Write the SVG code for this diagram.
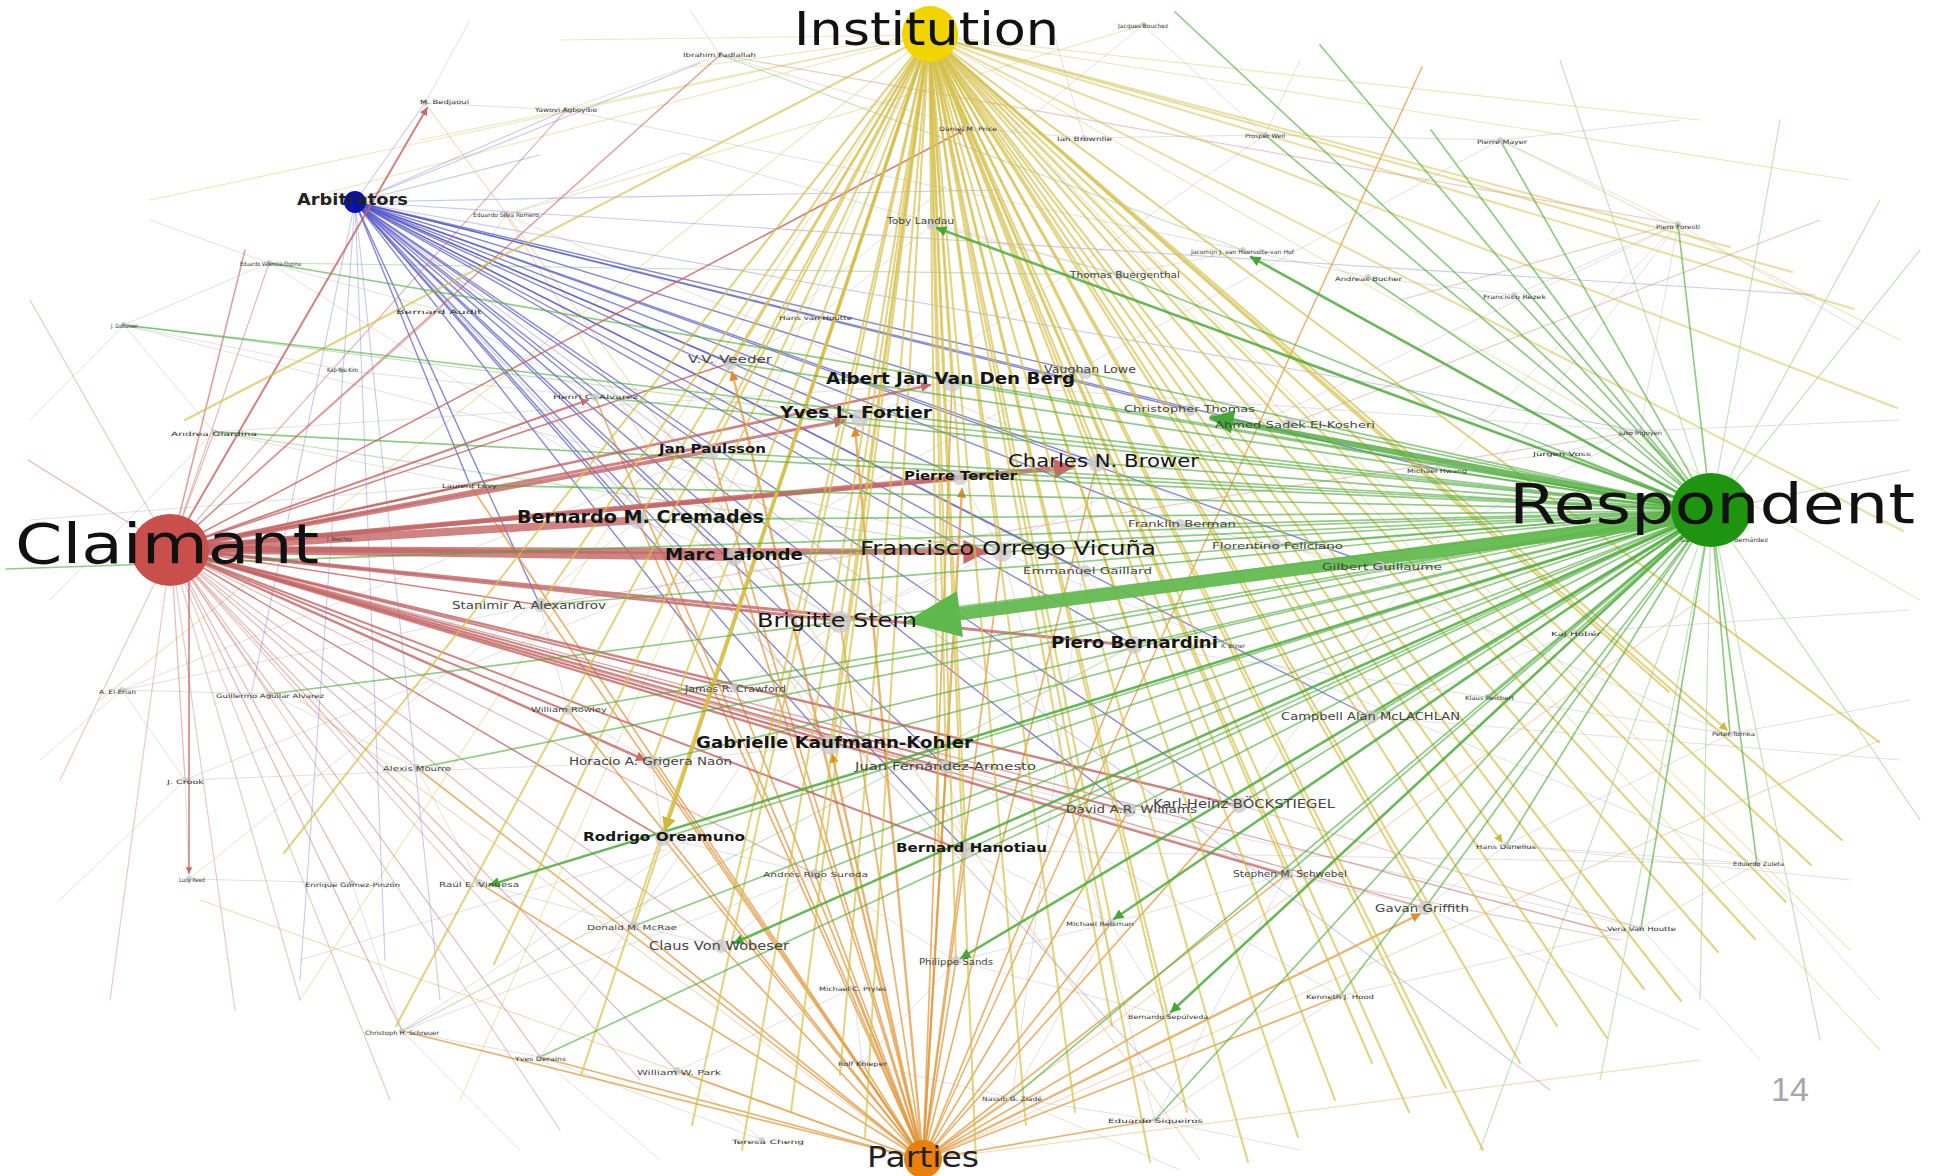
<svg xmlns="http://www.w3.org/2000/svg" width="1938" height="1176" viewBox="0 0 1938 1176">
<defs>
<style>
.e{fill:none;stroke-linecap:round}
.k{stroke:#9a9a9a;stroke-width:1;stroke-opacity:.3}
.fy{stroke:#d8cc70;stroke-width:1.2;stroke-opacity:.45}
.fg{stroke:#7cc070;stroke-width:1.2;stroke-opacity:.45}
.fr{stroke:#d08a8a;stroke-width:1.2;stroke-opacity:.45}
.fb{stroke:#8888dd;stroke-width:1.1;stroke-opacity:.45}
.fo{stroke:#e8b070;stroke-width:1.2;stroke-opacity:.45}
.y{stroke:#d4c04a;stroke-width:2.1;stroke-opacity:.68}
.g{stroke:#4dab3c;stroke-width:1.7;stroke-opacity:.62}
.r{stroke:#c46464;stroke-width:2;stroke-opacity:.8}
.o{stroke:#e0963c;stroke-width:1.7;stroke-opacity:.72}
.b{stroke:#5454c8;stroke-width:1.4;stroke-opacity:.7}
.d{fill:#c8c8c8;fill-opacity:.75}
.L{font-family:"DejaVu Sans","Liberation Sans",sans-serif;fill:#151515}
.bd{font-weight:bold}
.t{font-family:"DejaVu Sans","Liberation Sans",sans-serif;font-size:6px;fill:#333}
.s{font-family:"DejaVu Sans","Liberation Sans",sans-serif;fill:#444}
</style>
<marker id="aY" viewBox="0 0 10 10" refX="9" refY="5" markerWidth="4" markerHeight="4" orient="auto"><path d="M0 0L10 5L0 10z" fill="#cdb83c"/></marker>
<marker id="aG" viewBox="0 0 10 10" refX="9" refY="5" markerWidth="4" markerHeight="4" orient="auto"><path d="M0 0L10 5L0 10z" fill="#45a835"/></marker>
<marker id="aR" viewBox="0 0 10 10" refX="9" refY="5" markerWidth="4" markerHeight="4" orient="auto"><path d="M0 0L10 5L0 10z" fill="#c86a6a"/></marker>
<marker id="aO" viewBox="0 0 10 10" refX="9" refY="5" markerWidth="4" markerHeight="4" orient="auto"><path d="M0 0L10 5L0 10z" fill="#e08c2a"/></marker>
</defs>
<rect width="1938" height="1176" fill="#fff"/>
<g id="connectors">
<g id="web">
<path class="e k" d="M269 263 439 310"/><path class="e k" d="M269 263 124 325"/><path class="e k" d="M124 325 214 432"/><path class="e k" d="M124 325 342 370"/><path class="e k" d="M214 432 470 485"/><path class="e k" d="M342 370 595 397"/><path class="e k" d="M439 310 595 397"/><path class="e k" d="M506 215 439 310"/><path class="e k" d="M506 215 683 153"/><path class="e k" d="M425 103 566 110"/><path class="e k" d="M566 110 720 55"/><path class="e k" d="M720 55 968 128"/><path class="e k" d="M968 128 1084 138"/><path class="e k" d="M1084 138 1265 135"/><path class="e k" d="M1143 25 1265 135"/><path class="e k" d="M1265 135 1500 140"/><path class="e k" d="M1500 140 1678 224"/><path class="e k" d="M1678 224 1514 295"/><path class="e k" d="M1514 295 1368 277"/><path class="e k" d="M1368 277 1243 250"/><path class="e k" d="M1243 250 1120 275"/><path class="e k" d="M1120 275 932 225"/><path class="e k" d="M932 225 816 318"/><path class="e k" d="M816 318 730 363"/><path class="e k" d="M1678 224 1640 431"/><path class="e k" d="M1640 431 1562 453"/><path class="e k" d="M1562 453 1437 469"/><path class="e k" d="M1576 632 1487 697"/><path class="e k" d="M1487 697 1730 734"/><path class="e k" d="M1730 734 1506 845"/><path class="e k" d="M1506 845 1757 864"/><path class="e k" d="M1757 864 1641 928"/><path class="e k" d="M1641 928 1340 996"/><path class="e k" d="M1340 996 1155 1120"/><path class="e k" d="M1155 1120 1012 1098"/><path class="e k" d="M1012 1098 862 1063"/><path class="e k" d="M862 1063 853 988"/><path class="e k" d="M853 988 677 1071"/><path class="e k" d="M677 1071 762 1140"/><path class="e k" d="M762 1140 540 1057"/><path class="e k" d="M540 1057 402 1031"/><path class="e k" d="M402 1031 352 883"/><path class="e k" d="M352 883 189 879"/><path class="e k" d="M189 879 185 780"/><path class="e k" d="M185 780 122 690"/><path class="e k" d="M122 690 270 694"/><path class="e k" d="M270 694 417 768"/><path class="e k" d="M417 768 479 883"/><path class="e k" d="M479 883 634 926"/><path class="e k" d="M634 926 721 946"/><path class="e k" d="M721 946 815 874"/><path class="e k" d="M815 874 956 961"/><path class="e k" d="M956 961 1111 923"/><path class="e k" d="M1111 923 1287 874"/><path class="e k" d="M1287 874 1425 908"/><path class="e k" d="M1425 908 1506 845"/><path class="e k" d="M1371 717 1576 632"/><path class="e k" d="M1239 805 1371 717"/><path class="e k" d="M1129 810 1239 805"/><path class="e k" d="M946 767 1129 810"/><path class="e k" d="M830 745 946 767"/><path class="e k" d="M652 762 830 745"/><path class="e k" d="M568 710 652 762"/><path class="e k" d="M540 605 568 710"/><path class="e k" d="M735 688 830 745"/><path class="e k" d="M840 622 735 688"/><path class="e k" d="M840 622 1002 552"/><path class="e k" d="M734 557 840 622"/><path class="e k" d="M638 520 734 557"/><path class="e k" d="M711 452 638 520"/><path class="e k" d="M860 418 711 452"/><path class="e k" d="M952 383 860 418"/><path class="e k" d="M730 363 860 418"/><path class="e k" d="M1086 373 952 383"/><path class="e k" d="M1097 463 960 477"/><path class="e k" d="M960 477 1002 552"/><path class="e k" d="M1085 571 1180 525"/><path class="e k" d="M1180 525 1275 545"/><path class="e k" d="M1275 545 1380 567"/><path class="e k" d="M1190 410 1290 423"/><path class="e k" d="M1134 645 1085 571"/><path class="e k" d="M966 850 946 767"/><path class="e k" d="M663 838 652 762"/><path class="e k" d="M663 838 815 874"/><path class="e k" d="M966 850 1111 923"/><path class="e k" d="M1168 1016 1111 923"/><path class="e k" d="M1168 1016 956 961"/><path class="e k" d="M840 622 269 263"/><path class="e k" d="M840 622 1678 224"/><path class="e k" d="M1002 552 124 325"/><path class="e k" d="M1002 552 1757 864"/><path class="e k" d="M830 745 402 1031"/><path class="e k" d="M830 745 1641 928"/><path class="e k" d="M734 557 185 780"/><path class="e k" d="M734 557 1500 140"/><path class="e k" d="M1097 463 506 215"/><path class="e k" d="M1097 463 1730 734"/><path class="e k" d="M952 383 214 432"/><path class="e k" d="M952 383 1640 431"/><path class="e k" d="M638 520 189 879"/><path class="e k" d="M966 850 1757 864"/><path class="e k" d="M946 767 1340 996"/><path class="e k" d="M711 452 122 690"/><path class="e k" d="M860 418 1265 135"/><path class="e k" d="M1134 645 1487 697"/><path class="e k" d="M1002 552 1155 1120"/><path class="e k" d="M840 622 540 1057"/><path class="e k" d="M1097 463 1012 1098"/><path class="e k" d="M730 363 1143 25"/><path class="e k" d="M683 153 1120 275"/><path class="e k" d="M566 110 1243 250"/><path class="e k" d="M1239 805 1678 224"/><path class="e k" d="M1371 717 1900 760"/><path class="e k" d="M1730 734 1910 700"/><path class="e k" d="M1757 864 1880 1000"/><path class="e k" d="M1641 928 1760 1060"/><path class="e k" d="M122 690 40 760"/><path class="e k" d="M185 780 60 900"/><path class="e k" d="M269 263 150 220"/><path class="e k" d="M124 325 30 420"/><path class="e k" d="M402 1031 520 1150"/><path class="e k" d="M540 1057 660 1160"/><path class="e k" d="M1155 1120 1300 1150"/><path class="e k" d="M1012 1098 1180 1170"/><path class="e k" d="M214 432 50 600"/><path class="e k" d="M1500 140 1680 120"/><path class="e k" d="M1678 224 1860 330"/><path class="e k" d="M1640 431 1900 420"/><path class="e k" d="M1576 632 1910 610"/><path class="e k" d="M1506 845 1850 880"/><path class="e k" d="M1425 908 1700 1030"/><path class="e k" d="M425 103 470 20"/><path class="e k" d="M720 55 690 10"/><path class="e k" d="M1084 138 1050 20"/><path class="e k" d="M1265 135 1300 60"/><path class="e k" d="M665 850 300 960"/><path class="e k" d="M652 762 185 780"/><path class="e k" d="M540 605 122 690"/><path class="e k" d="M470 485 30 520"/><path class="e k" d="M815 874 402 1031"/><path class="e k" d="M956 961 862 1063"/><path class="e k" d="M1111 923 1012 1098"/><path class="e k" d="M1287 874 1155 1120"/><path class="e k" d="M1380 567 1640 431"/><path class="e k" d="M1437 469 1678 224"/>
</g>
<g id="faint">
<path class="e fy" d="M929 35 100 700"/><path class="e fy" d="M929 35 300 1000"/><path class="e fy" d="M929 35 1920 600"/><path class="e fy" d="M929 35 1850 950"/><path class="e fy" d="M929 35 150 200"/><path class="e fy" d="M929 35 560 40"/><path class="e fy" d="M929 35 420 140"/><path class="e fy" d="M929 35 300 200"/><path class="e fy" d="M929 35 692 67"/><path class="e fy" d="M929 35 1850 180"/><path class="e fy" d="M929 35 1700 120"/><path class="e fy" d="M929 35 460 1100"/><path class="e fy" d="M929 35 1880 1050"/><path class="e fy" d="M506 215 1143 25"/><path class="e fy" d="M1500 140 1900 340"/>
<path class="e fg" d="M1711 511 1920 250"/><path class="e fg" d="M1711 511 1880 200"/><path class="e fg" d="M1711 511 1700 1000"/><path class="e fg" d="M1711 511 1820 1040"/><path class="e fg" d="M1711 511 1600 1080"/><path class="e fg" d="M1711 511 1920 820"/><path class="e fg" d="M1711 511 1480 1150"/><path class="e fg" d="M1711 511 1910 470"/><path class="e fg" d="M1711 511 1560 60"/><path class="e fg" d="M1711 511 1780 120"/><path class="e fg" d="M269 263 1120 275"/><path class="e fg" d="M124 325 860 418"/><path class="e fg" d="M214 432 1002 552"/><path class="e fg" d="M720 55 1243 250"/><path class="e fg" d="M402 1031 1134 645"/>
<path class="e fr" d="M171 549 300 1000"/><path class="e fr" d="M171 549 390 1100"/><path class="e fr" d="M171 549 560 1130"/><path class="e fr" d="M171 549 640 1080"/><path class="e fr" d="M171 549 60 780"/><path class="e fr" d="M171 549 30 300"/><path class="e fr" d="M171 549 110 1000"/><path class="e fr" d="M171 549 235 1010"/><path class="e fr" d="M540 605 1640 431"/><path class="e fr" d="M1656 229 1400 300"/><path class="e fr" d="M1239 805 1641 928"/><path class="e fr" d="M1287 874 1620 940"/><path class="e fr" d="M720 55 1678 224"/><path class="e fr" d="M1820 220 1300 420"/>
<path class="e fb" d="M355 202 1815 295"/><path class="e fb" d="M355 202 700 63"/><path class="e fb" d="M355 202 566 110"/><path class="e fb" d="M355 202 540 155"/><path class="e fb" d="M355 202 1000 190"/><path class="e fb" d="M355 202 385 960"/><path class="e fb" d="M355 202 300 980"/><path class="e fb" d="M355 202 425 103"/><path class="e fb" d="M355 202 250 700"/><path class="e fb" d="M355 202 1550 1090"/><path class="e fb" d="M355 202 1640 431"/><path class="e fb" d="M355 202 440 1000"/><path class="e fb" d="M355 202 1200 1120"/>
<path class="e fo" d="M923 1160 300 700"/><path class="e fo" d="M923 1160 1700 600"/><path class="e fo" d="M923 1160 200 900"/><path class="e fo" d="M923 1160 1880 740"/><path class="e fo" d="M923 1160 1700 1060"/><path class="e fo" d="M425 103 1200 1160"/><path class="e fo" d="M506 215 830 745"/>
</g>
<g id="arbitrators-edges">
<path class="e b" d="M355 202 860 418"/><path class="e b" d="M355 202 1097 463"/><path class="e b" d="M355 202 952 383"/><path class="e b" d="M355 202 730 363"/><path class="e b" d="M355 202 711 452"/><path class="e b" d="M355 202 638 520"/><path class="e b" d="M355 202 840 622"/><path class="e b" d="M355 202 830 745"/><path class="e b" d="M355 202 946 767"/><path class="e b" d="M355 202 966 850"/><path class="e b" d="M355 202 1239 805"/><path class="e b" d="M355 202 1129 810"/><path class="e b" d="M355 202 1134 645"/><path class="e b" d="M355 202 1085 571"/><path class="e b" d="M355 202 1180 525"/><path class="e b" d="M355 202 735 688"/><path class="e b" d="M355 202 540 605"/><path class="e b" d="M355 202 470 485"/><path class="e b" d="M355 202 595 397"/><path class="e b" d="M355 202 1086 373"/><path class="e b" d="M355 202 1190 410"/><path class="e b" d="M355 202 1380 567"/><path class="e b" d="M355 202 1437 469"/><path class="e b" d="M355 202 1371 717"/><path class="e b" d="M355 202 1002 552"/><path class="e b" d="M355 202 734 557"/><path class="e b" d="M355 202 960 477"/>
</g>
<g id="parties-edges">
<path class="e o" d="M923 1160 840 622"/><path class="e o" d="M923 1160 734 557"/><path class="e o" d="M923 1160 638 520"/><path class="e o" d="M923 1160 711 452"/><path class="e o" d="M923 1160 1002 552"/><path class="e o" d="M923 1160 1097 463"/><path class="e o" d="M923 1160 952 383"/><path class="e o" d="M923 1160 1134 645"/><path class="e o" d="M923 1160 966 850"/><path class="e o" d="M923 1160 946 767"/><path class="e o" d="M923 1160 663 838"/><path class="e o" d="M923 1160 815 874"/><path class="e o" d="M923 1160 735 688"/><path class="e o" d="M923 1160 721 946"/><path class="e o" d="M923 1160 634 926"/><path class="e o" d="M923 1160 853 988"/><path class="e o" d="M923 1160 862 1063"/><path class="e o" d="M923 1160 677 1071"/><path class="e o" d="M923 1160 540 1057"/><path class="e o" d="M923 1160 402 1031"/><path class="e o" d="M923 1160 479 883"/><path class="e o" d="M923 1160 417 768"/><path class="e o" d="M923 1160 540 605"/><path class="e o" d="M923 1160 652 762"/><path class="e o" d="M923 1160 568 710"/><path class="e o" d="M923 1160 956 961"/><path class="e o" d="M923 1160 1111 923"/><path class="e o" d="M923 1160 1168 1016"/><path class="e o" d="M923 1160 1012 1098"/><path class="e o" d="M923 1160 1155 1120"/><path class="e o" d="M923 1160 1287 874"/><path class="e o" d="M923 1160 1340 996"/><path class="e o" d="M923 1160 1239 805"/><path class="e o" d="M923 1160 1129 810"/><path class="e o" d="M923 1160 595 397"/><path class="e o" d="M923 1160 470 485"/>
<path class="e o" style="stroke-width:2.4" marker-end="url(#aO)" d="M923 1160 732 372"/><path class="e o" style="stroke-width:2.4" marker-end="url(#aO)" d="M923 1160 855 428"/><path class="e o" style="stroke-width:2.4" marker-end="url(#aO)" d="M923 1160 962 489"/><path class="e o" style="stroke-width:2.4" marker-end="url(#aO)" d="M923 1160 832 754"/><path class="e o" style="stroke-width:2.4" marker-end="url(#aO)" d="M923 1160 1420 914"/><path class="e o" style="stroke-width:1.5" d="M923 1160 1422 67"/>
</g>
<g id="claimant-edges">
<path class="e r" style="stroke-width:8" d="M171 549 640 520"/><path class="e r" style="stroke-width:8" d="M171 549 730 557"/><path class="e r" style="stroke-width:6" marker-end="url(#aR)" d="M171 549 985 552"/><path class="e r" style="stroke-width:5" marker-end="url(#aR)" d="M171 549 1072 467"/><path class="e r" style="stroke-width:4" d="M171 549 955 479"/><path class="e r" style="stroke-width:4" d="M171 549 705 452"/><path class="e r" style="stroke-width:3" marker-end="url(#aR)" d="M171 549 845 420"/><path class="e r" style="stroke-width:3" d="M171 549 835 620"/><path class="e r" style="stroke-width:3" d="M171 549 1128 645"/><path class="e r" style="stroke-width:2.5" marker-end="url(#aR)" d="M171 549 930 385"/><path class="e r" style="stroke-width:2.5" marker-end="url(#aR)" d="M171 549 645 760"/><path class="e r" style="stroke-width:2.5" d="M171 549 825 745"/><path class="e r" style="stroke-width:2.5" d="M171 549 1235 805"/>
<path class="e r" d="M171 549 1282 874"/><path class="e r" d="M171 549 962 850"/><path class="e r" d="M171 549 942 767"/><path class="e r" d="M171 549 730 688"/><path class="e r" d="M171 549 565 710"/><path class="e r" d="M171 549 1125 810"/><path class="e r" style="stroke-width:1.5" d="M171 549 540 605"/><path class="e r" style="stroke-width:1.5" d="M171 549 663 838"/><path class="e r" style="stroke-width:1.5" d="M171 549 730 363"/><path class="e r" style="stroke-width:1.5" d="M171 549 470 485"/>
<path class="e r" marker-end="url(#aR)" d="M171 549 427 108"/><path class="e r" style="stroke-width:1.6" marker-end="url(#aR)" d="M171 549 964 130"/><path class="e r" marker-end="url(#aR)" d="M171 549 588 400"/><path class="e r" style="stroke-width:1.6" marker-end="url(#aR)" d="M189 560 189 873"/>
<path class="e r" style="stroke-width:1.2;stroke-opacity:.45" d="M171 549 352 883"/><path class="e r" style="stroke-width:1.2;stroke-opacity:.45" d="M171 549 479 883"/><path class="e r" style="stroke-width:1.2;stroke-opacity:.45" d="M171 549 402 1031"/><path class="e r" style="stroke-width:1.2;stroke-opacity:.45" d="M171 549 540 1057"/><path class="e r" style="stroke-width:1.2;stroke-opacity:.45" d="M171 549 677 1071"/><path class="e r" style="stroke-width:1.2;stroke-opacity:.45" d="M171 549 721 946"/><path class="e r" style="stroke-width:1.2;stroke-opacity:.45" d="M171 549 634 926"/><path class="e r" style="stroke-width:1.2;stroke-opacity:.45" d="M171 549 815 874"/><path class="e r" style="stroke-width:1.2;stroke-opacity:.45" d="M171 549 269 263"/><path class="e r" style="stroke-width:1.2;stroke-opacity:.45" d="M171 549 214 432"/><path class="e r" style="stroke-width:1.2;stroke-opacity:.45" d="M171 549 439 310"/><path class="e r" style="stroke-width:1.5;stroke-opacity:.6" d="M171 549 720 55"/><path class="e r" style="stroke-width:1.2;stroke-opacity:.45" d="M171 549 566 110"/><path class="e r" style="stroke-width:1.4;stroke-opacity:.55" d="M171 549 1607 931"/><path class="e r" style="stroke-width:1.2;stroke-opacity:.45" d="M171 549 28 460"/><path class="e r" style="stroke-width:1.6;stroke-opacity:.6" d="M171 549 245 250"/><path class="e r" style="stroke-width:1.2;stroke-opacity:.45" d="M171 549 185 780"/><path class="e r" style="stroke-width:1.2;stroke-opacity:.45" d="M171 549 417 768"/><path class="e r" style="stroke-width:1.2;stroke-opacity:.45" d="M171 549 270 694"/><path class="e r" style="stroke-width:1.4;stroke-opacity:.55" d="M171 549 1287 874"/><path class="e r" style="stroke-width:1.4;stroke-opacity:.55" d="M171 549 1425 908"/>
</g>
<g id="institution-edges">
<path class="e y" d="M929 35 185 420"/><path class="e y" d="M929 35 284 853"/><path class="e y" d="M929 35 396 1026"/><path class="e y" d="M929 35 494 964"/><path class="e y" d="M929 35 581 1075"/><path class="e y" d="M929 35 692 1125"/><path class="e y" d="M929 35 742 1150"/><path class="e y" d="M929 35 791 1112"/><path class="e y" d="M929 35 840 1075"/><path class="e y" d="M929 35 865 1137"/><path class="e y" d="M929 35 976 1162"/><path class="e y" d="M929 35 1026 1125"/><path class="e y" d="M929 35 1075 1112"/><path class="e y" d="M929 35 1112 1026"/><path class="e y" d="M929 35 1150 1162"/><path class="e y" d="M929 35 1187 1112"/><path class="e y" d="M929 35 1248 1162"/><path class="e y" d="M929 35 1298 1137"/><path class="e y" d="M929 35 1335 1100"/><path class="e y" d="M929 35 1372 1063"/><path class="e y" d="M929 35 1409 1112"/><path class="e y" d="M929 35 1446 1088"/><path class="e y" d="M929 35 1483 1150"/><path class="e y" d="M929 35 1520 1063"/><path class="e y" d="M929 35 1557 1026"/><path class="e y" d="M929 35 1607 1038"/><path class="e y" d="M929 35 1644 989"/><path class="e y" d="M929 35 1681 1001"/><path class="e y" d="M929 35 1718 952"/><path class="e y" d="M929 35 1755 939"/><path class="e y" d="M929 35 1786 902"/><path class="e y" d="M929 35 1811 865"/><path class="e y" d="M929 35 1842 840"/><path class="e y" d="M929 35 1879 742"/><path class="e y" d="M929 35 1669 692"/><path class="e y" style="stroke-opacity:.5" d="M929 35 1897 408"/><path class="e y" style="stroke-opacity:.5" d="M929 35 1903 531"/><path class="e y" style="stroke-opacity:.5" d="M929 35 1854 309"/><path class="e y" style="stroke-opacity:.5" d="M929 35 1792 272"/><path class="e y" style="stroke-opacity:.5" d="M929 35 1730 247"/><path class="e y" d="M929 35 939 865"/>
<path class="e y" d="M929 35 730 363"/><path class="e y" d="M929 35 711 452"/><path class="e y" d="M929 35 638 520"/><path class="e y" d="M929 35 540 605"/><path class="e y" d="M929 35 652 762"/><path class="e y" d="M929 35 830 745"/><path class="e y" d="M929 35 960 477"/><path class="e y" d="M929 35 1002 552"/><path class="e y" d="M929 35 952 383"/><path class="e y" d="M929 35 840 622"/><path class="e y" d="M929 35 966 850"/><path class="e y" d="M929 35 946 767"/><path class="e y" d="M929 35 1097 463"/><path class="e y" d="M929 35 1134 645"/><path class="e y" d="M929 35 1239 805"/><path class="e y" d="M929 35 1371 717"/><path class="e y" d="M929 35 1287 874"/><path class="e y" d="M929 35 1425 908"/><path class="e y" d="M929 35 1111 923"/><path class="e y" d="M929 35 1168 1016"/><path class="e y" d="M929 35 956 961"/><path class="e y" d="M929 35 815 874"/><path class="e y" d="M929 35 721 946"/><path class="e y" d="M929 35 634 926"/>
<path class="e y" style="stroke-width:3.5;stroke-opacity:.85" marker-end="url(#aY)" d="M929 35 665 830"/><path class="e y" marker-end="url(#aY)" d="M929 35 1502 842"/><path class="e y" marker-end="url(#aY)" d="M929 35 1727 730"/>
</g>
<g id="respondent-edges">
<path class="e g" d="M1711 511 952 383"/><path class="e g" d="M1711 511 860 418"/><path class="e g" d="M1711 511 711 452"/><path class="e g" d="M1711 511 1097 463"/><path class="e g" d="M1711 511 960 477"/><path class="e g" d="M1711 511 638 520"/><path class="e g" d="M1711 511 734 557"/><path class="e g" d="M1711 511 1002 552"/><path class="e g" d="M1711 511 1134 645"/><path class="e g" d="M1711 511 830 745"/><path class="e g" d="M1711 511 663 838"/><path class="e g" d="M1711 511 966 850"/><path class="e g" d="M1711 511 1239 805"/><path class="e g" d="M1711 511 1371 717"/><path class="e g" d="M1711 511 946 767"/><path class="e g" d="M1711 511 652 762"/><path class="e g" d="M1711 511 1129 810"/><path class="e g" d="M1711 511 1425 908"/><path class="e g" d="M1711 511 1287 874"/><path class="e g" d="M1711 511 540 605"/><path class="e g" d="M1711 511 730 363"/><path class="e g" d="M1711 511 1086 373"/><path class="e g" d="M1711 511 1290 423"/><path class="e g" d="M1711 511 1180 525"/><path class="e g" d="M1711 511 1085 571"/><path class="e g" d="M1711 511 1275 545"/><path class="e g" d="M1711 511 1380 567"/><path class="e g" d="M1711 511 735 688"/><path class="e g" d="M1711 511 568 710"/><path class="e g" d="M1711 511 815 874"/><path class="e g" d="M1711 511 634 926"/><path class="e g" d="M1711 511 1437 469"/><path class="e g" d="M1711 511 1576 632"/><path class="e g" d="M1711 511 1506 845"/><path class="e g" d="M1711 511 1340 996"/><path class="e g" d="M1711 511 1155 1120"/><path class="e g" d="M1711 511 1012 1098"/><path class="e g" d="M1711 511 595 397"/><path class="e g" d="M1711 511 470 485"/><path class="e g" d="M1711 511 214 432"/><path class="e g" d="M1711 511 417 768"/><path class="e g" d="M1711 511 270 694"/><path class="e g" d="M1711 511 540 1057"/><path class="e g" d="M1711 511 1120 275"/><path class="e g" d="M1711 511 1368 277"/><path class="e g" d="M1711 511 1514 295"/><path class="e g" d="M1711 511 1265 135"/><path class="e g" d="M1711 511 1500 140"/><path class="e g" d="M1711 511 1678 224"/><path class="e g" d="M1711 511 6 569"/><path class="e g" d="M1711 511 124 325"/><path class="e g" d="M1711 511 1175 12"/><path class="e g" d="M1711 511 1320 45"/><path class="e g" d="M1711 511 1431 130"/><path class="e g" d="M1711 511 1640 431"/><path class="e g" d="M1711 511 1562 453"/><path class="e g" d="M1711 511 1487 697"/><path class="e g" d="M1711 511 1730 734"/><path class="e g" d="M1711 511 1641 928"/><path class="e g" d="M1711 511 1757 864"/><path class="e g" d="M1711 511 269 263"/>
<path class="e g" style="stroke-width:2.6;stroke-opacity:.85" marker-end="url(#aG)" d="M1711 511 937 228"/><path class="e g" style="stroke-width:2.6;stroke-opacity:.85" marker-end="url(#aG)" d="M1711 511 1251 257"/><path class="e g" style="stroke-width:2.6;stroke-opacity:.85" marker-end="url(#aG)" d="M1711 511 490 885"/><path class="e g" style="stroke-width:2.6;stroke-opacity:.85" marker-end="url(#aG)" d="M1711 511 734 943"/><path class="e g" style="stroke-width:2.6;stroke-opacity:.85" marker-end="url(#aG)" d="M1711 511 961 958"/><path class="e g" style="stroke-width:2.6;stroke-opacity:.85" marker-end="url(#aG)" d="M1711 511 1114 919"/><path class="e g" style="stroke-width:2.6;stroke-opacity:.85" marker-end="url(#aG)" d="M1711 511 1171 1012"/>
<path class="e g" style="stroke-width:6;stroke-opacity:.8" marker-end="url(#aG)" d="M1711 511 1212 418"/>
<path class="e" style="stroke:#5fb84c;stroke-width:13;stroke-opacity:.92;stroke-linecap:butt" d="M1700 516 958 614"/>
<path d="M905 622L963 637L957 591z" fill="#5fb84c"/>
</g>
</g>
<g id="nodes">
<g id="n-berg"><circle class="d" cx="952" cy="383" r="9"/><text class="L bd" x="826" y="384" font-size="16" textLength="249" lengthAdjust="spacingAndGlyphs">Albert Jan Van Den Berg</text></g>
<g id="n-fortier"><circle class="d" cx="860" cy="418" r="9"/><text class="L bd" x="780" y="418" font-size="16" textLength="152" lengthAdjust="spacingAndGlyphs">Yves L. Fortier</text></g>
<g id="n-paulsson"><circle class="d" cx="711" cy="452" r="8"/><text class="L bd" x="659" y="453" font-size="13" textLength="107" lengthAdjust="spacingAndGlyphs">Jan Paulsson</text></g>
<g id="n-brower"><circle class="d" cx="1097" cy="463" r="9"/><text class="L" x="1008" y="467" font-size="17" textLength="191" lengthAdjust="spacingAndGlyphs">Charles N. Brower</text></g>
<g id="n-tercier"><circle class="d" cx="960" cy="477" r="8"/><text class="L bd" x="904" y="480" font-size="12" textLength="113" lengthAdjust="spacingAndGlyphs">Pierre Tercier</text></g>
<g id="n-cremades"><circle class="d" cx="638" cy="520" r="9"/><text class="L" x="517" y="523" font-size="17" textLength="247" lengthAdjust="spacingAndGlyphs" style="font-weight:600">Bernardo M. Cremades</text></g>
<g id="n-lalonde"><circle class="d" cx="734" cy="557" r="9"/><text class="L bd" x="665" y="560" font-size="15" textLength="138" lengthAdjust="spacingAndGlyphs">Marc Lalonde</text></g>
<g id="n-vicuna"><circle class="d" cx="1002" cy="552" r="10"/><text class="L" x="860" y="555" font-size="19" textLength="296" lengthAdjust="spacingAndGlyphs">Francisco Orrego Vicuña</text></g>
<g id="n-stern"><circle class="d" cx="840" cy="622" r="11"/><text class="L" x="757" y="627" font-size="19" textLength="160" lengthAdjust="spacingAndGlyphs">Brigitte Stern</text></g>
<g id="n-bernardini"><circle class="d" cx="1134" cy="645" r="9"/><text class="L bd" x="1051" y="648" font-size="15" textLength="167" lengthAdjust="spacingAndGlyphs">Piero Bernardini</text></g>
<g id="n-kaufmann"><circle class="d" cx="830" cy="745" r="10"/><text class="L bd" x="696" y="748" font-size="16" textLength="277" lengthAdjust="spacingAndGlyphs">Gabrielle Kaufmann-Kohler</text></g>
<g id="n-oreamuno"><circle class="d" cx="663" cy="838" r="8"/><text class="L bd" x="583" y="841" font-size="12" textLength="162" lengthAdjust="spacingAndGlyphs">Rodrigo Oreamuno</text></g>
<g id="n-hanotiau"><circle class="d" cx="966" cy="850" r="8"/><text class="L bd" x="896" y="852" font-size="12" textLength="151" lengthAdjust="spacingAndGlyphs">Bernard Hanotiau</text></g>
<g id="n-bockstiegel"><circle class="d" cx="1239" cy="805" r="8"/><text class="s" x="1153" y="808" font-size="12" textLength="182" lengthAdjust="spacingAndGlyphs">Karl-Heinz BÖCKSTIEGEL</text></g>
<g id="n-mclachlan"><circle class="d" cx="1371" cy="717" r="7"/><text class="s" x="1281" y="720" font-size="11" textLength="179" lengthAdjust="spacingAndGlyphs">Campbell Alan McLACHLAN</text></g>
<g id="n-armesto"><circle class="d" cx="946" cy="767" r="7"/><text class="s" x="855" y="770" font-size="11" textLength="181" lengthAdjust="spacingAndGlyphs">Juan Fernández-Armesto</text></g>
<g id="n-grigera"><circle class="d" cx="652" cy="762" r="7"/><text class="s" x="569" y="765" font-size="10" textLength="163" lengthAdjust="spacingAndGlyphs">Horacio A. Grigera Naón</text></g>
<g id="n-williams"><circle class="d" cx="1129" cy="810" r="7"/><text class="s" x="1066" y="813" font-size="10" textLength="131" lengthAdjust="spacingAndGlyphs">David A.R. Williams</text></g>
<g id="n-wobeser"><circle class="d" cx="721" cy="946" r="7"/><text class="s" x="649" y="950" font-size="13" textLength="140" lengthAdjust="spacingAndGlyphs">Claus Von Wobeser</text></g>
<g id="n-griffith"><circle class="d" cx="1425" cy="908" r="7"/><text class="s" x="1375" y="912" font-size="11" textLength="94" lengthAdjust="spacingAndGlyphs">Gavan Griffith</text></g>
<g id="n-schwebel"><circle class="d" cx="1287" cy="874" r="6"/><text class="s" x="1233" y="877" font-size="8" textLength="114" lengthAdjust="spacingAndGlyphs">Stephen M. Schwebel</text></g>
<g id="n-alexandrov"><circle class="d" cx="540" cy="605" r="7"/><text class="s" x="452" y="609" font-size="11" textLength="154" lengthAdjust="spacingAndGlyphs">Stanimir A. Alexandrov</text></g>
<g id="n-veeder"><circle class="d" cx="730" cy="363" r="7"/><text class="s" x="688" y="363" font-size="11" textLength="84" lengthAdjust="spacingAndGlyphs">V.V. Veeder</text></g>
<g id="n-lowe"><circle class="d" cx="1086" cy="373" r="6"/><text class="s" x="1044" y="373" font-size="10" textLength="92" lengthAdjust="spacingAndGlyphs">Vaughan Lowe</text></g>
<g id="n-thomas"><circle class="d" cx="1190" cy="410" r="6"/><text class="s" x="1124" y="412" font-size="9" textLength="131" lengthAdjust="spacingAndGlyphs">Christopher Thomas</text></g>
<g id="n-kosheri"><circle class="d" cx="1290" cy="423" r="6"/><text class="s" x="1215" y="428" font-size="9" textLength="160" lengthAdjust="spacingAndGlyphs">Ahmed Sadek El-Kosheri</text></g>
<g id="n-berman"><circle class="d" cx="1180" cy="525" r="6"/><text class="s" x="1128" y="527" font-size="9" textLength="108" lengthAdjust="spacingAndGlyphs">Franklin Berman</text></g>
<g id="n-gaillard"><circle class="d" cx="1085" cy="571" r="6"/><text class="s" x="1023" y="574" font-size="9" textLength="129" lengthAdjust="spacingAndGlyphs">Emmanuel Gaillard</text></g>
<g id="n-feliciano"><circle class="d" cx="1275" cy="545" r="6"/><text class="s" x="1212" y="549" font-size="9" textLength="131" lengthAdjust="spacingAndGlyphs">Florentino Feliciano</text></g>
<g id="n-guillaume"><circle class="d" cx="1380" cy="567" r="6"/><text class="s" x="1322" y="570" font-size="9" textLength="120" lengthAdjust="spacingAndGlyphs">Gilbert Guillaume</text></g>
<g id="n-crawford"><circle class="d" cx="735" cy="688" r="5"/><text class="s" x="685" y="692" font-size="8" textLength="101" lengthAdjust="spacingAndGlyphs">James R. Crawford</text></g>
<g id="n-rowley"><circle class="d" cx="568" cy="710" r="5"/><text class="s" x="531" y="712" font-size="7" textLength="76" lengthAdjust="spacingAndGlyphs">William Rowley</text></g>
<g id="n-rigo"><circle class="d" cx="815" cy="874" r="5"/><text class="s" x="763" y="877" font-size="7" textLength="105" lengthAdjust="spacingAndGlyphs">Andrés Rigo Sureda</text></g>
<g id="n-mcrae"><circle class="d" cx="634" cy="926" r="5"/><text class="s" x="587" y="930" font-size="7" textLength="90" lengthAdjust="spacingAndGlyphs">Donald M. McRae</text></g>
<g id="n-sands"><circle class="d" cx="956" cy="961" r="5"/><text class="s" x="919" y="965" font-size="8" textLength="74" lengthAdjust="spacingAndGlyphs">Philippe Sands</text></g>
<g id="n-reisman"><circle class="d" cx="1111" cy="923" r="4"/><text class="t" x="1066" y="926" textLength="68" lengthAdjust="spacingAndGlyphs">Michael Reisman</text></g>
<g id="n-landau"><circle class="d" cx="932" cy="225" r="5"/><text class="s" x="887" y="224" font-size="9" textLength="67" lengthAdjust="spacingAndGlyphs">Toby Landau</text></g>
<g id="n-buergenthal"><circle class="d" cx="1120" cy="275" r="5"/><text class="s" x="1070" y="278" font-size="9" textLength="110" lengthAdjust="spacingAndGlyphs">Thomas Buergenthal</text></g>
<g id="n-alvarez"><circle class="d" cx="595" cy="397" r="4"/><text class="t" x="553" y="399" font-size="7" textLength="85" lengthAdjust="spacingAndGlyphs">Henri C. Alvarez</text></g>
<g id="n-haersolte"><circle class="d" cx="1243" cy="250" r="3"/><text class="t" x="1191" y="254" textLength="103" lengthAdjust="spacingAndGlyphs">Jacomijn J. van Haersolte-van Hof</text></g>
<g id="n-price"><circle class="d" cx="968" cy="128" r="3"/><text class="t" x="939" y="131" textLength="58" lengthAdjust="spacingAndGlyphs">Daniel M. Price</text></g>
<g id="n-weil"><circle class="d" cx="1265" cy="135" r="3"/><text class="t" x="1245" y="138" textLength="40" lengthAdjust="spacingAndGlyphs">Prosper Weil</text></g>
<g id="n-bucher"><circle class="d" cx="1368" cy="277" r="3"/><text class="t" x="1335" y="281" textLength="67" lengthAdjust="spacingAndGlyphs">Andreas Bucher</text></g>
<g id="n-rezek"><circle class="d" cx="1514" cy="295" r="3"/><text class="t" x="1483" y="299" textLength="63" lengthAdjust="spacingAndGlyphs">Francisco Rezek</text></g>
<g id="n-sepulveda"><circle class="d" cx="1168" cy="1016" r="3"/><text class="t" x="1128" y="1019" textLength="80" lengthAdjust="spacingAndGlyphs">Bernardo Sepúlveda</text></g>
<g id="n-park"><circle class="d" cx="677" cy="1071" r="4"/><text class="s" x="637" y="1075" font-size="7" textLength="84" lengthAdjust="spacingAndGlyphs">William W. Park</text></g>
<g id="n-bedjaoui"><circle class="d" cx="425" cy="103" r="3"/><text class="t" x="420" y="104" textLength="49" lengthAdjust="spacingAndGlyphs">M. Bedjaoui</text></g>
<g id="n-fadlallah"><circle class="d" cx="720" cy="55" r="3"/><text class="t" x="683" y="57" textLength="73" lengthAdjust="spacingAndGlyphs">Ibrahim Fadlallah</text></g>
<g id="n-agboyibo"><circle class="d" cx="566" cy="110" r="3"/><text class="t" x="535" y="112" textLength="62" lengthAdjust="spacingAndGlyphs">Yawovi Agboyibo</text></g>
<g id="n-silva"><circle class="d" cx="506" cy="215" r="3"/><text class="t" x="473" y="217" textLength="66" lengthAdjust="spacingAndGlyphs">Eduardo Silva Romero</text></g>
<g id="n-bouchez"><circle class="d" cx="1143" cy="25" r="3"/><text class="t" x="1118" y="28" textLength="50" lengthAdjust="spacingAndGlyphs">Jacques Bouchez</text></g>
<g id="n-brownlie"><circle class="d" cx="1084" cy="138" r="3"/><text class="t" x="1057" y="141" textLength="55" lengthAdjust="spacingAndGlyphs">Ian Brownlie</text></g>
<g id="n-mayer"><circle class="d" cx="1500" cy="140" r="3"/><text class="t" x="1477" y="144" textLength="50" lengthAdjust="spacingAndGlyphs">Pierre Mayer</text></g>
<g id="n-foresti"><circle class="d" cx="1678" cy="224" r="3"/><text class="t" x="1656" y="229" textLength="44" lengthAdjust="spacingAndGlyphs">Piero Foresti</text></g>
<g id="n-irigoyen"><circle class="d" cx="1640" cy="431" r="3"/><text class="t" x="1619" y="435" textLength="43" lengthAdjust="spacingAndGlyphs">Julio Irigoyen</text></g>
<g id="n-voss"><circle class="d" cx="1562" cy="453" r="3"/><text class="t" x="1533" y="456" textLength="58" lengthAdjust="spacingAndGlyphs">Jürgen Voss</text></g>
<g id="n-hwang"><circle class="d" cx="1437" cy="469" r="3"/><text class="t" x="1407" y="473" textLength="60" lengthAdjust="spacingAndGlyphs">Michael Hwang</text></g>
<g id="n-torres"><text class="t" x="1680" y="542" textLength="88" lengthAdjust="spacingAndGlyphs">Santiago Torres Bernárdez</text></g>
<g id="n-hober"><circle class="d" cx="1576" cy="632" r="3"/><text class="t" x="1551" y="636" textLength="50" lengthAdjust="spacingAndGlyphs">Kaj Hobér</text></g>
<g id="n-reichert"><circle class="d" cx="1487" cy="697" r="3"/><text class="t" x="1465" y="700" textLength="49" lengthAdjust="spacingAndGlyphs">Klaus Reichert</text></g>
<g id="n-tomka"><circle class="d" cx="1730" cy="734" r="3"/><text class="t" x="1712" y="736" textLength="43" lengthAdjust="spacingAndGlyphs">Peter Tomka</text></g>
<g id="n-danelius"><circle class="d" cx="1506" cy="845" r="3"/><text class="t" x="1476" y="849" textLength="60" lengthAdjust="spacingAndGlyphs">Hans Danelius</text></g>
<g id="n-zuleta"><circle class="d" cx="1757" cy="864" r="3"/><text class="t" x="1733" y="866" textLength="51" lengthAdjust="spacingAndGlyphs">Eduardo Zuleta</text></g>
<g id="n-vanhoutte"><circle class="d" cx="1641" cy="928" r="3"/><text class="t" x="1607" y="931" textLength="69" lengthAdjust="spacingAndGlyphs">Vera Van Houtte</text></g>
<g id="n-hood"><circle class="d" cx="1340" cy="996" r="3"/><text class="t" x="1306" y="999" textLength="68" lengthAdjust="spacingAndGlyphs">Kenneth J. Hood</text></g>
<g id="n-ziade"><circle class="d" cx="1012" cy="1098" r="3"/><text class="t" x="982" y="1101" textLength="60" lengthAdjust="spacingAndGlyphs">Nassib G. Ziadé</text></g>
<g id="n-siqueiros"><circle class="d" cx="1155" cy="1120" r="3"/><text class="t" x="1108" y="1123" textLength="95" lengthAdjust="spacingAndGlyphs">Eduardo Siqueiros</text></g>
<g id="n-pryles"><circle class="d" cx="853" cy="988" r="3"/><text class="t" x="819" y="991" textLength="68" lengthAdjust="spacingAndGlyphs">Michael C. Pryles</text></g>
<g id="n-knieper"><circle class="d" cx="862" cy="1063" r="3"/><text class="t" x="838" y="1066" textLength="49" lengthAdjust="spacingAndGlyphs">Rolf Knieper</text></g>
<g id="n-cheng"><circle class="d" cx="762" cy="1140" r="3"/><text class="t" x="732" y="1144" textLength="72" lengthAdjust="spacingAndGlyphs">Teresa Cheng</text></g>
<g id="n-derains"><circle class="d" cx="540" cy="1057" r="3"/><text class="t" x="515" y="1061" textLength="51" lengthAdjust="spacingAndGlyphs">Yves Derains</text></g>
<g id="n-schreuer"><circle class="d" cx="402" cy="1031" r="3"/><text class="t" x="365" y="1035" textLength="74" lengthAdjust="spacingAndGlyphs">Christoph H. Schreuer</text></g>
<g id="n-vinuesa"><circle class="d" cx="479" cy="883" r="4"/><text class="s" x="439" y="887" font-size="7" textLength="80" lengthAdjust="spacingAndGlyphs">Raúl E. Vinuesa</text></g>
<g id="n-gomez"><circle class="d" cx="352" cy="883" r="3"/><text class="t" x="305" y="887" textLength="95" lengthAdjust="spacingAndGlyphs">Enrique Gómez-Pinzón</text></g>
<g id="n-reed"><circle class="d" cx="189" cy="879" r="3"/><text class="t" x="179" y="882" textLength="26" lengthAdjust="spacingAndGlyphs">Lucy Reed</text></g>
<g id="n-mourre"><circle class="d" cx="417" cy="768" r="4"/><text class="s" x="383" y="771" font-size="7" textLength="68" lengthAdjust="spacingAndGlyphs">Alexis Mourre</text></g>
<g id="n-crook"><circle class="d" cx="185" cy="780" r="3"/><text class="t" x="167" y="784" textLength="37" lengthAdjust="spacingAndGlyphs">J. Crook</text></g>
<g id="n-aguilar"><circle class="d" cx="270" cy="694" r="3"/><text class="t" x="216" y="698" textLength="108" lengthAdjust="spacingAndGlyphs">Guillermo Aguilar Alvarez</text></g>
<g id="n-elerian"><circle class="d" cx="122" cy="690" r="3"/><text class="t" x="99" y="694" textLength="37" lengthAdjust="spacingAndGlyphs">A. El-Erian</text></g>
<g id="n-levy"><circle class="d" cx="470" cy="485" r="3"/><text class="t" x="442" y="488" textLength="55" lengthAdjust="spacingAndGlyphs">Laurent Lévy</text></g>
<g id="n-giardina"><circle class="d" cx="214" cy="432" r="3"/><text class="t" x="171" y="436" textLength="86" lengthAdjust="spacingAndGlyphs">Andrea Giardina</text></g>
<g id="n-kim"><circle class="d" cx="342" cy="370" r="3"/><text class="t" x="327" y="372" textLength="31" lengthAdjust="spacingAndGlyphs">Kap-You Kim</text></g>
<g id="n-dalhuisen"><circle class="d" cx="124" cy="325" r="3"/><text class="t" x="111" y="328" textLength="27" lengthAdjust="spacingAndGlyphs">J. Dalhuisen</text></g>
<g id="n-audit"><circle class="d" cx="439" cy="310" r="3"/><text class="t" x="396" y="314" textLength="86" lengthAdjust="spacingAndGlyphs">Bernard Audit</text></g>
<g id="n-valencia"><circle class="d" cx="269" cy="263" r="3"/><text class="t" x="240" y="266" textLength="61" lengthAdjust="spacingAndGlyphs">Eduardo Valencia-Ospina</text></g>
<g id="n-houtte"><circle class="d" cx="816" cy="318" r="3"/><text class="t" x="779" y="320" textLength="73" lengthAdjust="spacingAndGlyphs">Hans van Houtte</text></g>
<g id="n-briner"><text class="t" x="1221" y="648" textLength="24" lengthAdjust="spacingAndGlyphs">R. Briner</text></g>
<g id="n-beechey"><text class="t" x="327" y="541" textLength="25" lengthAdjust="spacingAndGlyphs">J. Beechey</text></g>
<g id="n-institution"><circle cx="930" cy="34" r="28" fill="#f2d400"/><text class="L" x="794" y="45" font-size="46" textLength="265" lengthAdjust="spacingAndGlyphs" style="fill:#111">Institution</text></g>
<g id="n-claimant"><ellipse cx="170" cy="550" rx="39" ry="36" fill="#c84f4b"/><text class="L" x="15" y="563" font-size="55" textLength="304" lengthAdjust="spacingAndGlyphs" style="fill:#111">Claimant</text></g>
<g id="n-respondent"><ellipse cx="1711" cy="510" rx="40" ry="37" fill="#1e9410"/><text class="L" x="1509" y="523" font-size="55" textLength="406" lengthAdjust="spacingAndGlyphs" style="fill:#111">Respondent</text></g>
<g id="n-parties"><circle cx="923" cy="1159" r="19" fill="#ea7f0c"/><text class="L" x="867" y="1167" font-size="29" textLength="112" lengthAdjust="spacingAndGlyphs" style="fill:#222">Parties</text></g>
<g id="n-arbitrators"><circle cx="355" cy="202" r="11" fill="#0a10b0"/><text class="L bd" x="297" y="205" font-size="15" textLength="111" lengthAdjust="spacingAndGlyphs" style="fill:#222">Arbitrators</text></g>
</g>
<text x="1771" y="1101" font-family="Liberation Sans, Arial, sans-serif" font-size="34" fill="#a8a8a8">14</text>
</svg>
